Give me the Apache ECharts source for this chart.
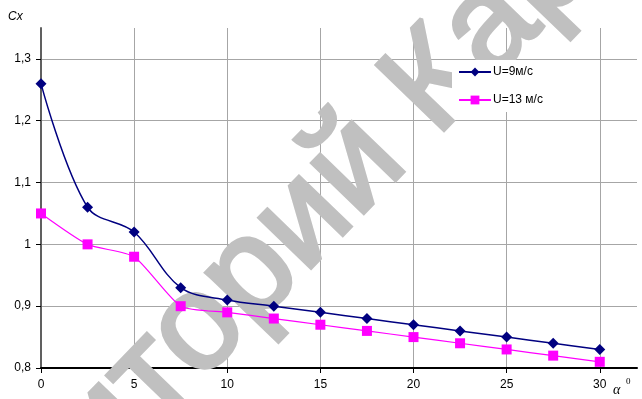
<!DOCTYPE html>
<html><head><meta charset="utf-8">
<script src="https://cdn.jsdelivr.net/npm/echarts@6/dist/echarts.min.js"></script>
<style>html,body{margin:0;padding:0;background:#fff}#c{width:642px;height:399px}</style>
</head><body><div id="c"></div>
<script>
const angles = [0, 2.5, 5, 7.5, 10, 12.5, 15, 17.5, 20, 22.5, 25, 27.5, 30];
const cxU9 = [1.26, 1.06, 1.02, 0.93, 0.91, 0.90, 0.89, 0.88, 0.87, 0.86, 0.85, 0.84, 0.83];
const cxU13 = [1.05, 1.00, 0.98, 0.90, 0.89, 0.88, 0.87, 0.86, 0.85, 0.84, 0.83, 0.82, 0.81];
const seriesNames = ['U=9м/с', 'U=13 м/с'];
const xTicks = [0, 5, 10, 15, 20, 25, 30];
const yTicks = [0.8, 0.9, 1.0, 1.1, 1.2, 1.3];

const pair = (xs, ys) => xs.map((x, i) => [x, ys[i]]);
const fmtY = v => { const s = (Math.round(v * 10) / 10).toString(); return s.replace('.', ','); };

const chart = echarts.init(document.getElementById('c'), null, {renderer: 'canvas'});
const font = 'Liberation Sans, Arial, sans-serif';
chart.setOption({
  animation: false,
  backgroundColor: '#fff',
  textStyle: {fontFamily: font},
  grid: {left: 41, right: 5, top: 28, bottom: 31},
  graphic: [
    {type: 'text', x: -180, y: 722, rotation: 46 * Math.PI / 180, z: 1, silent: true,
     style: {text: 'Репозиторий КарГТУ', font: '136px Liberation Sans, Arial, sans-serif',
             fill: '#c0c0c0', stroke: '#c0c0c0', lineWidth: 4, textAlign: 'left', textVerticalAlign: 'middle'}},
    {type: 'text', left: 8, top: 11, z: 10,
     style: {text: 'Cx', font: 'italic 12px Liberation Sans, Arial, sans-serif', fill: '#000'}},
    {type: 'text', left: 613, top: 383, z: 10,
     style: {text: 'α', font: 'italic 14px Liberation Serif, Times New Roman, serif', fill: '#000'}},
    {type: 'text', left: 626, top: 377, z: 10,
     style: {text: '0', font: '9px Liberation Serif, Times New Roman, serif', fill: '#000'}}
  ],
  legend: {
    orient: 'vertical', left: 452, top: 60, padding: [6, 6, 6, 6],
    backgroundColor: '#fff', itemWidth: 32, itemHeight: 11, itemGap: 16,
    textStyle: {fontSize: 12, color: '#000', fontFamily: font, padding: [0, 0, 0, -3]},
    data: seriesNames
  },
  xAxis: {
    type: 'value', min: 0, max: 32, interval: 5,
    axisLine: {onZero: false, lineStyle: {color: '#000', width: 2}},
    axisTick: {show: true, length: 5, lineStyle: {color: '#000'}, customValues: xTicks},
    axisLabel: {color: '#000', fontSize: 12, margin: 11, customValues: xTicks, formatter: v => String(v)},
    splitLine: {show: true, lineStyle: {color: '#a6a6a6', width: 1}}
  },
  yAxis: {
    type: 'value', min: 0.8, max: 1.35, interval: 0.1,
    axisLine: {show: true, onZero: false, lineStyle: {color: '#606060', width: 2}},
    axisTick: {show: true, length: 5, lineStyle: {color: '#000'}, customValues: yTicks},
    axisLabel: {color: '#000', fontSize: 12, margin: 10, customValues: yTicks, formatter: fmtY},
    splitLine: {show: true, lineStyle: {color: '#a6a6a6', width: 1}}
  },
  series: [
    {name: seriesNames[0], type: 'line', data: pair(angles, cxU9), smooth: 0.35, z: 3,
     symbol: 'diamond', symbolSize: 11, itemStyle: {color: '#000080'},
     lineStyle: {color: '#000080', width: 1.5}},
    {name: seriesNames[1], type: 'line', data: pair(angles, cxU13), smooth: 0.2, z: 3,
     symbol: 'rect', symbolSize: 10, itemStyle: {color: '#ff00ff'},
     lineStyle: {color: '#ff00ff', width: 1.2}}
  ]
});
</script></body></html>
